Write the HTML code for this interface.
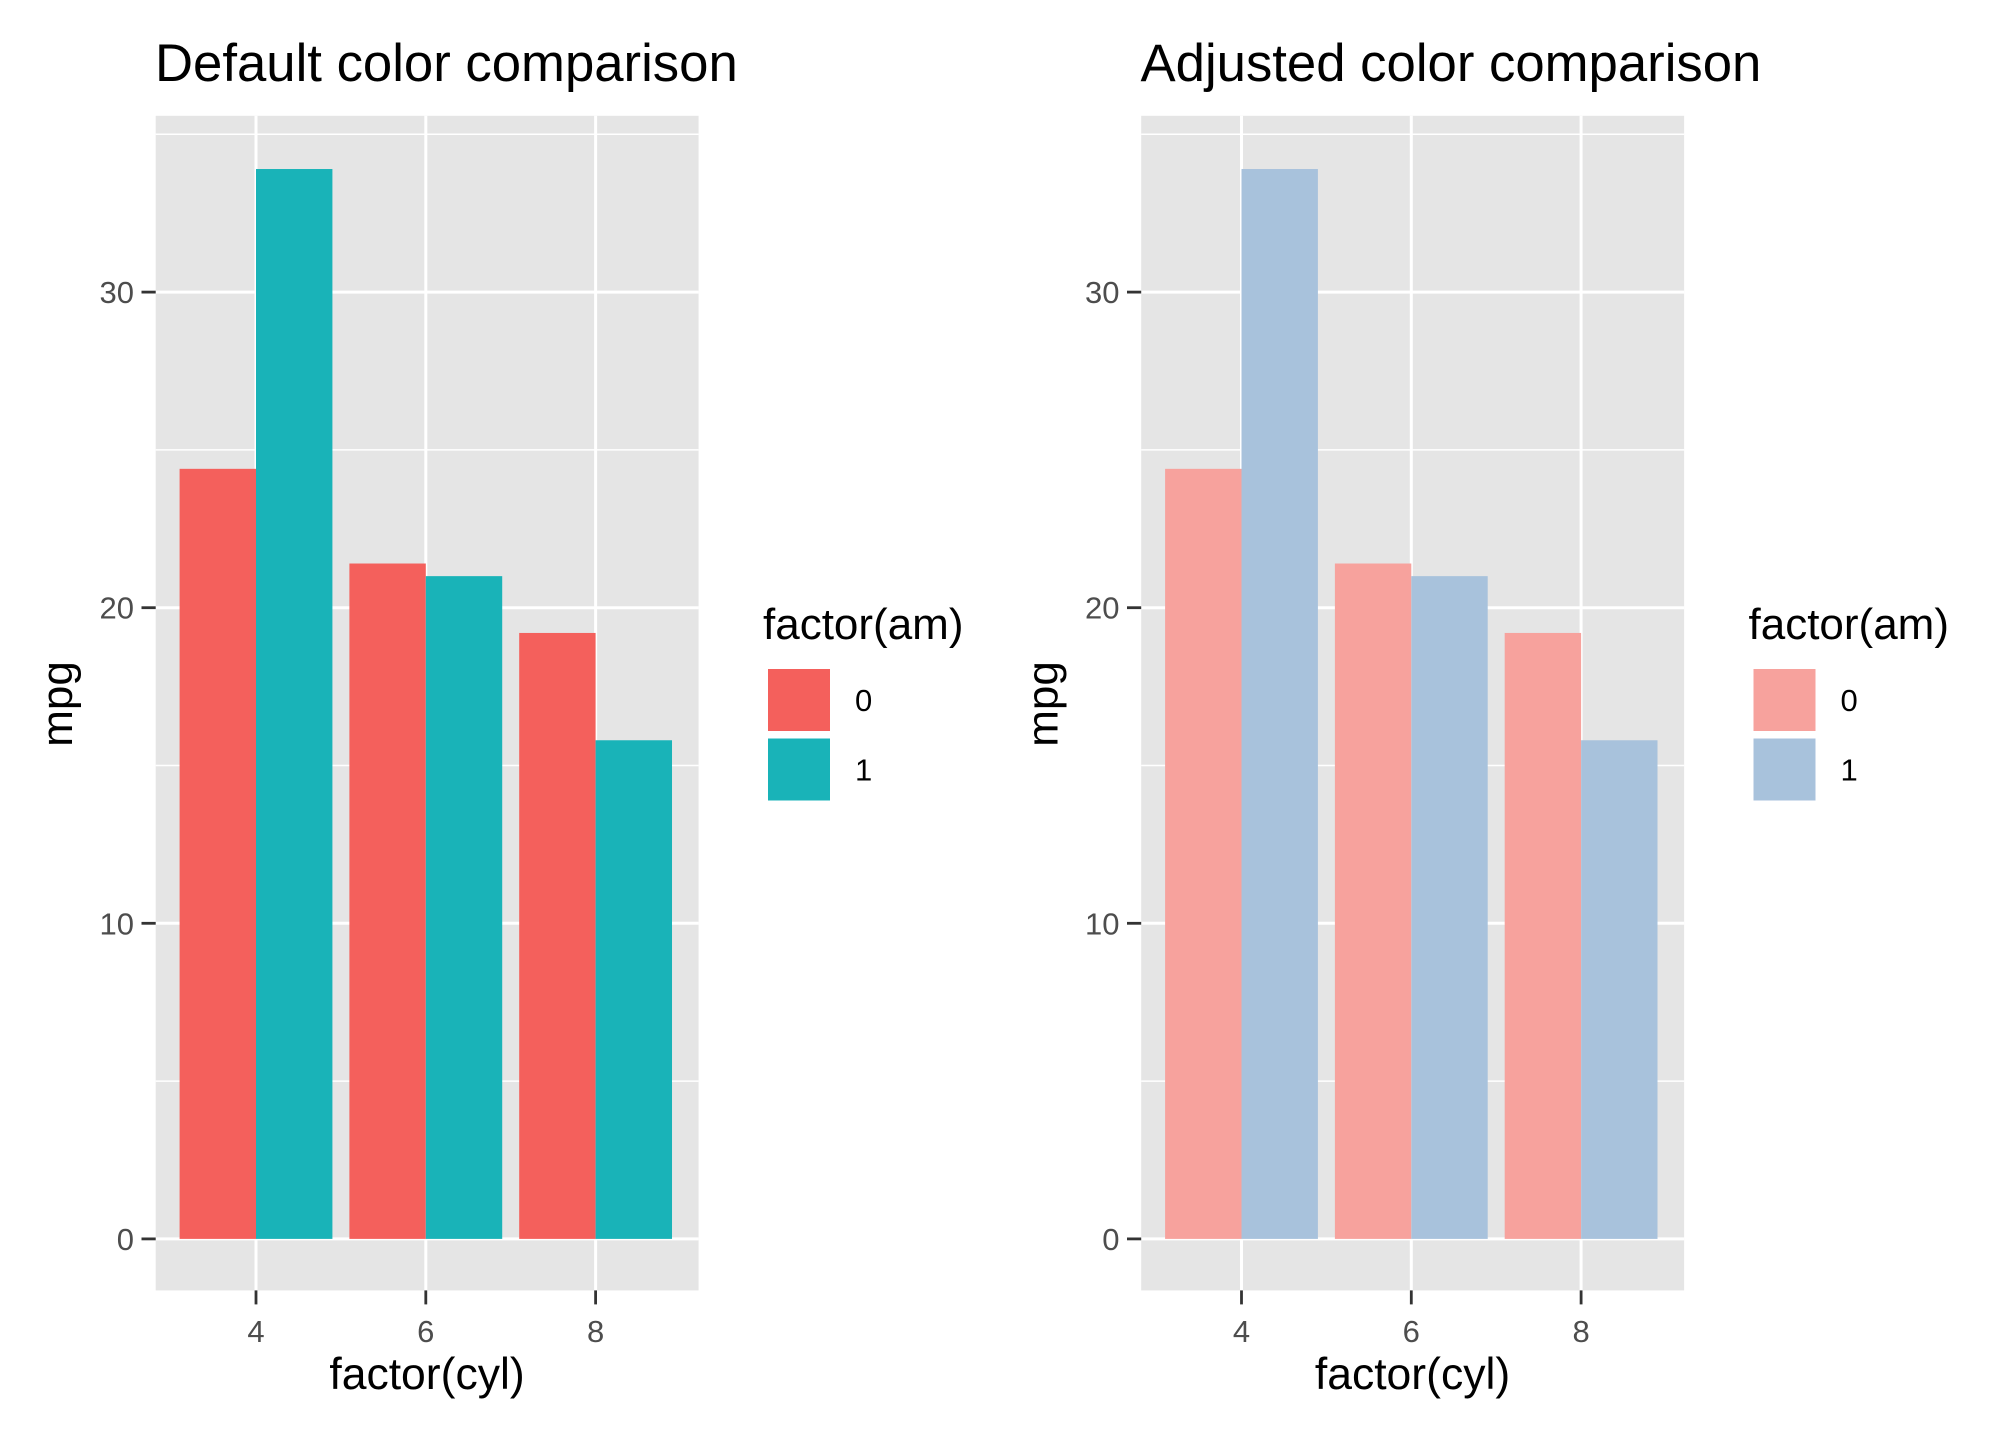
<!DOCTYPE html>
<html><head><meta charset="utf-8"><style>
body{margin:0;background:#fff;}
svg{display:block;font-family:"Liberation Sans",Arial,sans-serif;}
</style></head><body>
<svg id="c" width="2016" height="1440" viewBox="0 0 2016 1440"></svg>
<script>
const categories = ["4","6","8"];
const seriesAm0 = [24.4, 21.4, 19.2];
const seriesAm1 = [33.9, 21.0, 15.8];
const yTicks = [0, 10, 20, 30];
const yMinor = [5, 15, 25, 35];
const legendLabels = ["0", "1"];
const panels = [
  {title:"Default color comparison", dx:0, colors:["#F4605C","#19B3B8"], name:"default"},
  {title:"Adjusted color comparison", dx:985.5, colors:["#F7A29D","#A8C2DC"], name:"adjusted"}
];
const svg = document.getElementById('c');
const NS = "http://www.w3.org/2000/svg";
function el(tag, attrs, parent){const e=document.createElementNS(NS,tag);for(const k in attrs)e.setAttribute(k,attrs[k]);(parent||svg).appendChild(e);return e;}
const PL=155.7, PR=698.6, PT=115.8, PB=1290.4;
const y = v => 1238.9 - v*31.56;
const xc = i => 256 + i*169.8;
const bw = 0.45*169.8;
panels.forEach(p=>{
  const g = el('g',{transform:`translate(${p.dx},0)`});
  
  
  const t = el('text',{x:155,y:81,'font-size':52.7,fill:'#000'},g); t.textContent=p.title;
   
  const bg = el('rect',{x:PL,y:PT,width:PR-PL,height:PB-PT,fill:'#E5E5E5'},g);
   
  yMinor.forEach(v=>{const l=el('line',{x1:PL,x2:PR,y1:y(v),y2:y(v),stroke:'#fff','stroke-width':1.5},g);
     });
  yTicks.forEach(v=>{const l=el('line',{x1:PL,x2:PR,y1:y(v),y2:y(v),stroke:'#fff','stroke-width':3},g);
     
    const tk=el('line',{x1:141.5,x2:PL,y1:y(v),y2:y(v),stroke:'#333','stroke-width':2.8},g);
     
    const tl=el('text',{x:134,y:y(v)+11,'font-size':31,fill:'#4D4D4D','text-anchor':'end'},g); tl.textContent=v;
     });
  categories.forEach((c,i)=>{const l=el('line',{x1:xc(i),x2:xc(i),y1:PT,y2:PB,stroke:'#fff','stroke-width':3},g);
     
    const tk=el('line',{x1:xc(i),x2:xc(i),y1:PB,y2:PB+14,stroke:'#333','stroke-width':2.8},g);
     
    const tl=el('text',{x:xc(i),y:1342,'font-size':31,fill:'#4D4D4D','text-anchor':'middle'},g); tl.textContent=c;
     });
  categories.forEach((c,i)=>{
    [seriesAm0[i], seriesAm1[i]].forEach((v,s)=>{
      const r=el('rect',{x:xc(i)-bw+s*bw,y:y(v),width:bw,height:y(0)-y(v),fill:p.colors[s]},g);
       
    });
  });
  const xt=el('text',{x:427,y:1389,'font-size':44.5,fill:'#000','text-anchor':'middle'},g); xt.textContent='factor(cyl)';
   
  const yt=el('text',{x:0,y:0,'font-size':44,fill:'#000','text-anchor':'middle',transform:'translate(72,704) rotate(-90)'},g); yt.textContent='mpg';
   
  const lt=el('text',{x:763,y:639,'font-size':44,fill:'#000'},g); lt.textContent='factor(am)';
   
  legendLabels.forEach((lab,k)=>{
    const ky=668+k*69.5;
    const r=el('rect',{x:767,y:ky,width:64,height:64,fill:p.colors[k],stroke:'#fff','stroke-width':2},g);
     
    const tx=el('text',{x:855,y:ky+43,'font-size':31,fill:'#000'},g); tx.textContent=lab;
     
  });
});
</script>
</body></html>
